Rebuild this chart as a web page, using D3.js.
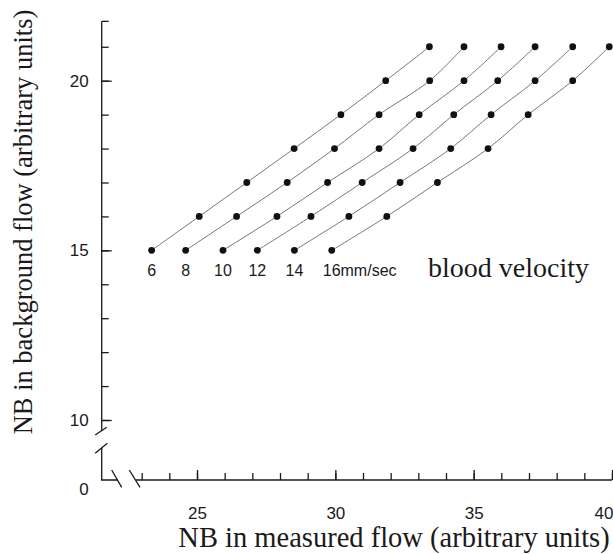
<!DOCTYPE html>
<html>
<head>
<meta charset="utf-8">
<script src="https://cdn.jsdelivr.net/npm/d3@7"></script>
<style>
    html, body { margin: 0; padding: 0; background: #ffffff; }
    #container { width: 613px; height: 554px; }
</style>
</head>
<body>
<div id="container"></div>
<script>
// blood velocity of each curve (mm/sec)
const velocities = [6, 8, 10, 12, 14, 16];
// NB in background flow, the same levels for every curve
const backgroundNB = [15, 16, 17, 18, 19, 20, 21];
// NB in measured flow, one row per velocity
const measuredNB = [
    [23.36, 25.08, 26.80, 28.51, 30.20, 31.82, 33.40],
    [24.59, 26.43, 28.26, 29.97, 31.58, 33.41, 34.65],
    [25.94, 27.89, 29.72, 31.58, 33.03, 34.65, 35.99],
    [27.18, 29.12, 30.97, 32.81, 34.28, 35.87, 37.22],
    [28.52, 30.49, 32.34, 34.17, 35.63, 37.22, 38.58],
    [29.87, 31.86, 33.69, 35.52, 36.97, 38.58, 39.90]
];
const xMajorTicks = [25, 30, 35, 40];
const xMinorTicks = d3.range(23, 41);
const yMajorTicks = [10, 15, 20];
const yMinorTicks = d3.range(10, 22);
const yBreakTicks = [0];

const width = 613;
const height = 554;
const axisX = 101.7;
const axisY = 480;
const yAxisTop = 21.75;

const svg = d3.select('#container')
    .append('svg')
    .attr('width', width)
    .attr('height', height)
    .style('background-color', '#ffffff');

const x = d3.scaleLinear()
    .domain([25, 40])
    .range([197, 612]);
// broken axis: 0 sits on the x axis, 10 and up are on a linear part
const y = d3.scaleLinear()
    .domain([0, 10, 20])
    .range([axisY, 420, 80.7]);

const axisColor = '#1a1a1a';
const tickFont = '"Liberation Sans", Arial, sans-serif';
const titleFont = '"Liberation Serif", "Times New Roman", serif';

// x axis ticks (inward)
const xMinor = svg.append('g')
    .attr('transform', `translate(0,${axisY})`)
    .call(d3.axisBottom(x).tickValues(xMinorTicks).tickSize(-7).tickFormat(''));
const xMajor = svg.append('g')
    .attr('transform', `translate(0,${axisY})`)
    .call(d3.axisBottom(x).tickValues(xMajorTicks).tickSize(-10).tickPadding(27));
// last label sits against the right edge
xMajor.selectAll('.tick text')
    .filter(d => d === 40)
    .attr('text-anchor', 'end')
    .attr('x', 1);

// y axis ticks (inward)
const yMinor = svg.append('g')
    .attr('transform', `translate(${axisX},0)`)
    .call(d3.axisLeft(y).tickValues(yMinorTicks).tickSize(-7).tickFormat(''));
const yMajor = svg.append('g')
    .attr('transform', `translate(${axisX},0)`)
    .call(d3.axisLeft(y).tickValues(yMajorTicks).tickSize(-10).tickPadding(13));
const yZero = svg.append('g')
    .attr('transform', `translate(${axisX},0)`)
    .call(d3.axisLeft(y).tickValues(yBreakTicks).tickSize(0).tickPadding(13));
yZero.selectAll('text').attr('dy', '0.85em');

[xMinor, xMajor, yMinor, yMajor, yZero].map(g => {
    g.select('.domain').remove();
    g.selectAll('line')
        .attr('stroke', axisColor)
        .attr('stroke-width', 1.3);
    g.selectAll('text')
        .style('font-family', tickFont)
        .style('font-size', '17px')
        .attr('fill', '#1a1a1a');
});

// axis lines with breaks
const axisLines = [
    [[axisX, y(yAxisTop)], [axisX, 431]],
    [[axisX, 448], [axisX, axisY], [117.5, axisY]],
    [[135.5, axisY], [x(40), axisY]],
    [[axisX, y(yAxisTop)], [axisX + 7, y(yAxisTop)]]
];
axisLines.map(pts => {
    svg.append('path')
        .attr('d', d3.line()(pts))
        .attr('fill', 'none')
        .attr('stroke', axisColor)
        .attr('stroke-width', 1.3);
});
// break marks
const breakMarks = [
    [[axisX - 6.5, 435], [axisX + 5, 427.3]],
    [[axisX - 6.5, 453.3], [axisX + 5.6, 443.3]],
    [[111.7, 470], [121.7, 487.3]],
    [[129.3, 470], [140, 487.3]]
];
breakMarks.map(pts => {
    svg.append('path')
        .attr('d', d3.line()(pts))
        .attr('stroke', axisColor)
        .attr('stroke-width', 1.3);
});

// curves
const curve = d3.line()
    .x(d => x(d[0]))
    .y(d => y(d[1]))
    .curve(d3.curveCatmullRom);

velocities.map((v, i) => {
    const pts = measuredNB[i].map((m, j) => [m, backgroundNB[j]]);
    svg.append('path')
        .attr('d', curve(pts))
        .attr('fill', 'none')
        .attr('stroke', '#555555')
        .attr('stroke-width', 0.8);
    svg.selectAll(null)
        .data(pts)
        .enter()
        .append('circle')
        .attr('cx', d => x(d[0]))
        .attr('cy', d => y(d[1]))
        .attr('r', 3.4)
        .attr('fill', '#111111');
    // velocity label under the first point
    const label = svg.append('text')
        .attr('x', x(pts[0][0]))
        .attr('y', y(pts[0][1]) + 26)
        .style('font-family', tickFont)
        .style('font-size', '16px')
        .attr('fill', '#1a1a1a');
    if (i === velocities.length - 1) {
        label.attr('text-anchor', 'start')
            .attr('dx', -9)
            .text(v + 'mm/sec');
    } else {
        label.attr('text-anchor', 'middle')
            .text(v);
    }
});

svg.append('text')
    .text('blood velocity')
    .attr('x', 428)
    .attr('y', 277)
    .style('font-family', titleFont)
    .style('font-size', '28px')
    .attr('fill', '#1a1a1a');

// axis titles
svg.append('text')
    .text('NB in measured flow (arbitrary units)')
    .attr('x', 394)
    .attr('y', 547)
    .attr('text-anchor', 'middle')
    .style('font-family', titleFont)
    .style('font-size', '28.5px')
    .attr('fill', '#1a1a1a');
svg.append('text')
    .text('NB in background flow (arbitrary units)')
    .attr('transform', 'translate(32,222) rotate(-90)')
    .attr('text-anchor', 'middle')
    .style('font-family', titleFont)
    .style('font-size', '26.5px')
    .attr('fill', '#1a1a1a');
</script>
</body>
</html>
